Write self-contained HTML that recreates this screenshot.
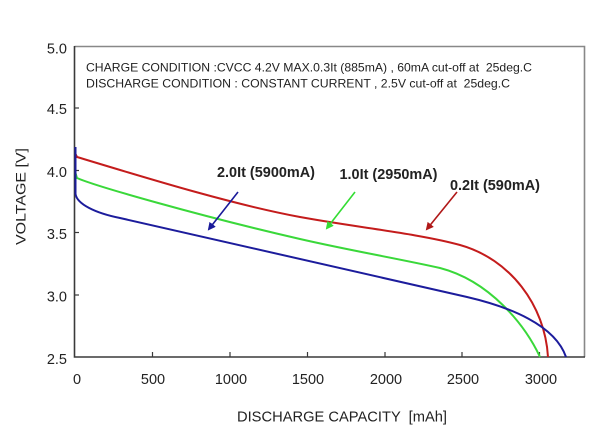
<!DOCTYPE html>
<html>
<head>
<meta charset="utf-8">
<style>
html,body{margin:0;padding:0;background:#fff;}
svg{display:block;}
text{font-family:"Liberation Sans",Arial,sans-serif;fill:#222;}
</style>
</head>
<body>
<svg width="600" height="436" viewBox="0 0 600 436" xmlns="http://www.w3.org/2000/svg">
<defs>
<marker id="ab" markerWidth="8" markerHeight="8" refX="6" refY="4" orient="auto" markerUnits="userSpaceOnUse">
<path d="M0,0 L8,4 L0,8 Z" fill="#1a1a9a"/>
</marker>
<marker id="ag" markerWidth="8" markerHeight="8" refX="6" refY="4" orient="auto" markerUnits="userSpaceOnUse">
<path d="M0,0 L8,4 L0,8 Z" fill="#33dd33"/>
</marker>
<marker id="ar" markerWidth="8" markerHeight="8" refX="6" refY="4" orient="auto" markerUnits="userSpaceOnUse">
<path d="M0,0 L8,4 L0,8 Z" fill="#b01818"/>
</marker>
</defs>
<rect width="600" height="436" fill="#fff"/>

<!-- frame -->
<path d="M74.5,46.5 L584.5,46.5 L584.5,357" fill="none" stroke="#888" stroke-width="1.6"/>
<path d="M74.5,46 L74.5,357 L585,357" fill="none" stroke="#3a3a3a" stroke-width="1.6"/>

<!-- ticks -->
<g stroke="#3a3a3a" stroke-width="1.2">
<line x1="74.5" y1="108" x2="79" y2="108"/>
<line x1="74.5" y1="170.5" x2="79" y2="170.5"/>
<line x1="74.5" y1="232.5" x2="79" y2="232.5"/>
<line x1="74.5" y1="295" x2="79" y2="295"/>
<line x1="152.5" y1="357" x2="152.5" y2="352"/>
<line x1="230" y1="357" x2="230" y2="352"/>
<line x1="307.5" y1="357" x2="307.5" y2="352"/>
<line x1="385" y1="357" x2="385" y2="352"/>
<line x1="462" y1="357" x2="462" y2="352"/>
<line x1="539.5" y1="357" x2="539.5" y2="352"/>
</g>

<!-- y tick labels -->
<g font-size="14.5" text-anchor="end">
<text x="67" y="53.5">5.0</text>
<text x="67" y="114">4.5</text>
<text x="67" y="177">4.0</text>
<text x="67" y="239">3.5</text>
<text x="67" y="301.5">3.0</text>
<text x="67" y="364">2.5</text>
</g>

<!-- x tick labels -->
<g font-size="14.5" text-anchor="middle">
<text x="77" y="384">0</text>
<text x="153" y="384">500</text>
<text x="231" y="384">1000</text>
<text x="308" y="384">1500</text>
<text x="386" y="384">2000</text>
<text x="463" y="384">2500</text>
<text x="541" y="384">3000</text>
</g>

<!-- axis titles -->
<text x="237" y="421.5" font-size="14.5" textLength="210" lengthAdjust="spacingAndGlyphs" xml:space="preserve">DISCHARGE CAPACITY  [mAh]</text>
<text transform="translate(25.5,245) rotate(-90)" x="0" y="0" font-size="14" textLength="97" lengthAdjust="spacingAndGlyphs">VOLTAGE [V]</text>

<!-- header -->
<text x="86" y="71.5" font-size="12" textLength="446" lengthAdjust="spacingAndGlyphs" xml:space="preserve">CHARGE CONDITION :CVCC 4.2V MAX.0.3It (885mA) , 60mA cut-off at  25deg.C</text>
<text x="86" y="87.3" font-size="12" textLength="424" lengthAdjust="spacingAndGlyphs" xml:space="preserve">DISCHARGE CONDITION : CONSTANT CURRENT , 2.5V cut-off at  25deg.C</text>

<!-- curves -->
<path d="M75.5,154 L77,157 C140,176 230,204 300,217 C350,226.3 420,233.8 460,245 C510,259 545,305 548,357" fill="none" stroke="#c41c1c" stroke-width="2"/>
<path d="M75.5,173 L77,178 C95,186 200,216 300,239 C350,250.5 400,259 440,268 C490,281 525,325 540,357" fill="none" stroke="#3ad83a" stroke-width="2"/>
<path d="M75.5,147 L75.5,194 C77,204 95,213 120,218 C235,244 350,270 467,297 C510,307 555,325 566,357" fill="none" stroke="#1c1c9c" stroke-width="2"/>

<!-- arrows -->
<line x1="238" y1="192" x2="209" y2="229" stroke="#1a1a9a" stroke-width="1.6" marker-end="url(#ab)"/>
<line x1="355" y1="192" x2="327" y2="228" stroke="#33dd33" stroke-width="1.6" marker-end="url(#ag)"/>
<line x1="457" y1="192" x2="427" y2="229" stroke="#b01818" stroke-width="1.6" marker-end="url(#ar)"/>

<!-- labels -->
<g font-size="14.5" font-weight="bold">
<text x="217" y="177" textLength="98" lengthAdjust="spacingAndGlyphs">2.0It (5900mA)</text>
<text x="339.5" y="179" textLength="98" lengthAdjust="spacingAndGlyphs">1.0It (2950mA)</text>
<text x="450" y="190" textLength="90" lengthAdjust="spacingAndGlyphs">0.2It (590mA)</text>
</g>
</svg>
</body>
</html>
